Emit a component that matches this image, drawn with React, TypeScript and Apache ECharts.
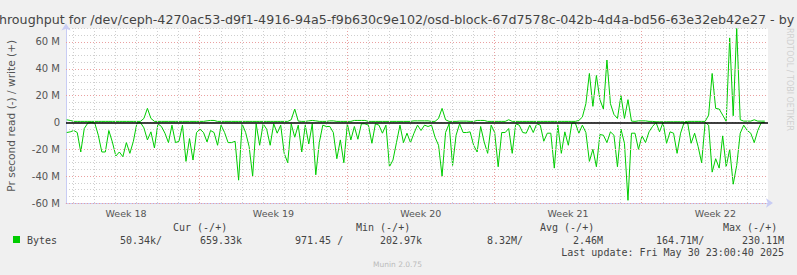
import React, { useEffect, useRef } from "react";
import * as echarts from "echarts";

// x unit: days; week 18 ends (week 19 starts) at day 7
const START_DAY = 0.68;
const STEP_DAY = 1 / 6;
const X_MIN = 0.645;
const X_MAX = 34;

// read (-) in MB/s, one value every 4 hours
const readMBs = [
  -7.5, -7, -6, -7.5, -22, -4.5, -0.5, 0, -0.5, -9.5,
  -22, -22, -6, -14.5, -25, -22, -25.5, -15, -23, -14,
  -0.5, 0, -4, -13, -7, -19, -1, -3, -8, -15,
  -2, -15, -14, -2, -29, -12, -28, -7.5, -5, -7.5,
  -14.5, -6, -7.5, -17, -2, -7.5, -15, -15, -14, -43,
  -1, -7.5, -18, -40, -1, -17, -1, -5, -17, -1,
  -8, -2, -23, -30, -1, -11, -2, -22, -2, -16,
  -1, -39, -15, -2, -3, -3, -7.5, -27, -13, -30,
  -1, -13, -3, -12.5, -1, -1, -2, -15.5, -1, -2,
  -8, -2, -33, -28, -15, -2, -15, -8, -15, -8,
  -2, -6, -2, -3, -2, -11, -17, -40, -7.5, -1,
  -32, -9.5, -1, -7.5, -7.5, -7, -17, -22, -3, -14.5,
  -23, -2, -7.5, -33, -7.5, -7.5, -4.5, -23, -1, -2,
  -7.5, -8, -2, -7.5, -1, -2, -14, -8, -8, -34,
  -2, -23, -7, -17, -0.5, -0.5, -8, -2, -7.5, -29,
  -20, -33, -9, -9.5, -15, -7, -9.5, -33, -5, -15.5,
  -58, -8, -8, -20, -10, -15, -7, -3, 0, -7,
  0, -15.5, -7, -8, -23, -8, 0, 0, -15.5, -8,
  -18, -30, 0, -2, -37, -27, -34, -10, -33, -20,
  -46, -32, -8, -2, -6, -8, -15, -6, 0, 0,
];

// write (+) in MB/s, one value every 4 hours
const writeMBs = [
  2, 1.5, 0.8, 0.8, 0.8, 0.8, 0.8, 0.8, 0.8, 0.8,
  0.8, 0.8, 0.8, 0.8, 0.8, 0.8, 0.8, 0.8, 0.8, 0.8,
  0.8, 0.8, 3, 10.5, 3, 0.8, 0.8, 0.8, 0.8, 0.8,
  0.8, 0.8, 0.8, 0.8, 0.8, 0.8, 0.8, 0.8, 0.8, 0.8,
  1.2, 1.5, 1.5, 0.8, 0.8, 0.8, 0.8, 0.8, 0.8, 0.8,
  0.8, 0.8, 0.8, 0.8, 0.8, 0.8, 0.8, 0.8, 0.8, 0.8,
  0.8, 0.8, 0.8, 0.8, 2, 10, 1, 0.8, 0.8, 1.2,
  1.5, 1.2, 0.8, 0.8, 0.8, 1.2, 1.2, 0.8, 0.8, 0.8,
  0.8, 0.8, 1.5, 1.5, 1.5, 1.5, 0.8, 0.8, 0.8, 0.8,
  0.8, 0.8, 0.8, 0.8, 0.8, 0.8, 0.8, 0.8, 0.8, 1.2,
  1.2, 1.2, 1.2, 1.2, 0.8, 0.8, 3, 10.5, 2, 0.8,
  0.8, 0.8, 1, 1, 1, 0.8, 0.8, 1.5, 1.5, 1.5,
  0.8, 0.8, 0.8, 0.8, 0.8, 0.8, 2, 0.8, 0.8, 0.8,
  0.8, 0.8, 0.8, 0.8, 0.8, 0.8, 0.8, 0.8, 0.8, 0.8,
  0.8, 0.8, 0.8, 0.8, 0.8, 0.8, 1.5, 4, 14, 36.5,
  12, 35, 17, 10, 46.5, 14, 6, 3, 20, 3,
  17, 1, 0.8, 1.2, 1.2, 1.2, 0.8, 0.8, 0.5, 0.5,
  0.5, 0.5, 0.5, 0.5, 0.5, 0.5, 0.5, 0.8, 0.8, 0.8,
  0.8, 0.8, 0.8, 5.5, 36.5, 10.5, 10, 5.5, 0.8, 63,
  5, 70, 2, 1, 1, 1, 2, 1, 1, 1,
];

const weekLabels = ["Week 18", "Week 19", "Week 20", "Week 21", "Week 22"];
const weekLabelDays = [3.5, 10.5, 17.5, 24.5, 31.5];
const weekStartDays = [7, 14, 21, 28];
const dayLineDays = [
  1, 2, 3, 4, 5, 6, 8, 9, 10, 11, 12, 13, 15, 16, 17, 18, 19, 20,
  22, 23, 24, 25, 26, 27, 29, 30, 31, 32, 33,
];
const majorYLines = [-60, -40, -20, 20, 40, 60];

const legendHeaders = ["Cur (-/+)", "Min (-/+)", "Avg (-/+)", "Max (-/+)"];
const legendValues = [
  "50.34k/", "659.33k", "971.45 /", "202.97k",
  "8.32M/", "2.46M", "164.71M/", "230.11M",
];

const TITLE =
  "Disk throughput for /dev/ceph-4270ac53-d9f1-4916-94a5-f9b630c9e102/osd-block-67d7578c-042b-4d4a-bd56-63e32eb42e27 - by month";

const MONO = "'DejaVu Sans Mono', monospace";
const SANS = "'DejaVu Sans', sans-serif";

export default function App() {
  const ref = useRef<HTMLDivElement>(null);
  useEffect(() => {
    if (!ref.current) return;
    const chart = echarts.init(ref.current, null, { renderer: "svg" });
    const toPairs = (arr: number[]) =>
      arr.map((v, i) => [START_DAY + i * STEP_DAY, v]);

    const headerX = [173, 356, 540, 723];
    const valueX = [120, 200, 295, 380, 487, 573, 656, 742];

    const graphics: any[] = [
      {
        type: "text",
        x: 401,
        y: 19,
        style: {
          text: TITLE,
          font: `12.67px ${SANS}`,
          fill: "#444",
          textAlign: "center",
          textVerticalAlign: "middle",
        },
      },
      {
        type: "text",
        x: 789,
        y: 28,
        rotation: -Math.PI / 2,
        style: {
          text: "RRDTOOL / TOBI OETIKER",
          font: `8px ${SANS}`,
          fill: "#d0d0d0",
          textAlign: "left",
          textVerticalAlign: "middle",
        },
      },
      {
        type: "rect",
        shape: { x: 13, y: 236, width: 7, height: 7 },
        style: { fill: "#00cc00", lineWidth: 0 },
      },
      {
        type: "text",
        x: 27,
        y: 240,
        style: { text: "Bytes", font: `10px ${MONO}`, fill: "#444", textVerticalAlign: "middle" },
      },
      ...legendHeaders.map((t, i) => ({
        type: "text",
        x: headerX[i],
        y: 227,
        style: { text: t, font: `10px ${MONO}`, fill: "#444", textVerticalAlign: "middle" },
      })),
      ...legendValues.map((t, i) => ({
        type: "text",
        x: valueX[i],
        y: 240,
        style: { text: t, font: `10px ${MONO}`, fill: "#444", textVerticalAlign: "middle" },
      })),
      {
        type: "text",
        x: 784,
        y: 252,
        style: {
          text: "Last update: Fri May 30 23:00:40 2025",
          font: `10px ${MONO}`,
          fill: "#444",
          textAlign: "right",
          textVerticalAlign: "middle",
        },
      },
      {
        type: "text",
        x: 397.5,
        y: 264,
        style: {
          text: "Munin 2.0.75",
          font: `7.5px ${SANS}`,
          fill: "#bbbbbb",
          textAlign: "center",
          textVerticalAlign: "middle",
        },
      },
    ];

    chart.setOption({
      animation: false,
      backgroundColor: "#f0f0f0",
      grid: {
        left: 66,
        right: 29,
        top: 28.5,
        bottom: 72,
        containLabel: false,
        outerBoundsMode: "none",
        show: true,
        backgroundColor: "#ffffff",
        borderWidth: 0,
      },
      xAxis: {
        type: "value",
        min: X_MIN,
        max: X_MAX,
        axisLine: {
          show: true,
          onZero: false,
          symbol: ["none", "arrow"],
          symbolSize: [7, 7],
          symbolOffset: [0, 5],
          lineStyle: { color: "#c8ccf4", width: 1 },
        },
        axisTick: { show: false },
        splitLine: { show: false },
        axisLabel: {
          customValues: weekLabelDays,
          formatter: (v: number) => {
            const k = weekLabelDays.indexOf(v);
            return k >= 0 ? weekLabels[k] : "";
          },
          color: "#555",
          fontFamily: "DejaVu Sans",
          fontSize: 9.5,
          margin: 5,
        },
      },
      yAxis: {
        type: "value",
        min: -60,
        max: 70,
        interval: 5,
        name: "Pr second read (-) / write (+)",
        nameLocation: "middle",
        nameGap: 50,
        nameTextStyle: { color: "#555", fontFamily: "DejaVu Sans", fontSize: 10.6 },
        axisLine: {
          show: true,
          onZero: false,
          symbol: ["none", "arrow"],
          symbolSize: [7, 7],
          symbolOffset: [0, 5],
          lineStyle: { color: "#c8ccf4", width: 1 },
        },
        axisTick: { show: false },
        axisLabel: {
          formatter: (v: number) =>
            v % 20 === 0 ? (v === 0 ? "0" : `${v} M`) : "",
          color: "#555",
          fontFamily: "DejaVu Sans",
          fontSize: 10,
          margin: 6,
        },
        splitLine: {
          show: true,
          lineStyle: { color: "#cfcfcf", type: [1, 2], width: 1 },
        },
      },
      series: [
        {
          type: "line",
          data: [],
          silent: true,
          z: 1,
          markLine: {
            silent: true,
            symbol: "none",
            label: { show: false },
            animation: false,
            data: [
              ...dayLineDays.map((d) => ({
                xAxis: d,
                lineStyle: { color: "#cfcfcf", type: [1, 2], width: 1 },
              })),
              ...weekStartDays.map((d) => ({
                xAxis: d,
                lineStyle: { color: "#eaa0a0", type: [1, 2], width: 1 },
              })),
              ...majorYLines.map((v) => ({
                yAxis: v,
                lineStyle: { color: "#eaa0a0", type: [1, 2], width: 1 },
              })),
            ],
          },
        },
        {
          name: "read",
          type: "line",
          data: toPairs(readMBs),
          showSymbol: false,
          lineStyle: { color: "#00cc00", width: 1 },
          z: 3,
          silent: true,
        },
        {
          name: "write",
          type: "line",
          data: toPairs(writeMBs),
          showSymbol: false,
          lineStyle: { color: "#00cc00", width: 1 },
          z: 3,
          silent: true,
          markLine: {
            silent: true,
            symbol: "none",
            label: { show: false },
            data: [{ yAxis: 0, lineStyle: { color: "#000", type: "solid", width: 1.5 } }],
          },
        },
      ],
      graphic: graphics,
    });
    return () => chart.dispose();
  }, []);
  return (
    <div
      ref={ref}
      style={{ position: "fixed", left: 0, top: 0, width: 797, height: 275 }}
    />
  );
}
